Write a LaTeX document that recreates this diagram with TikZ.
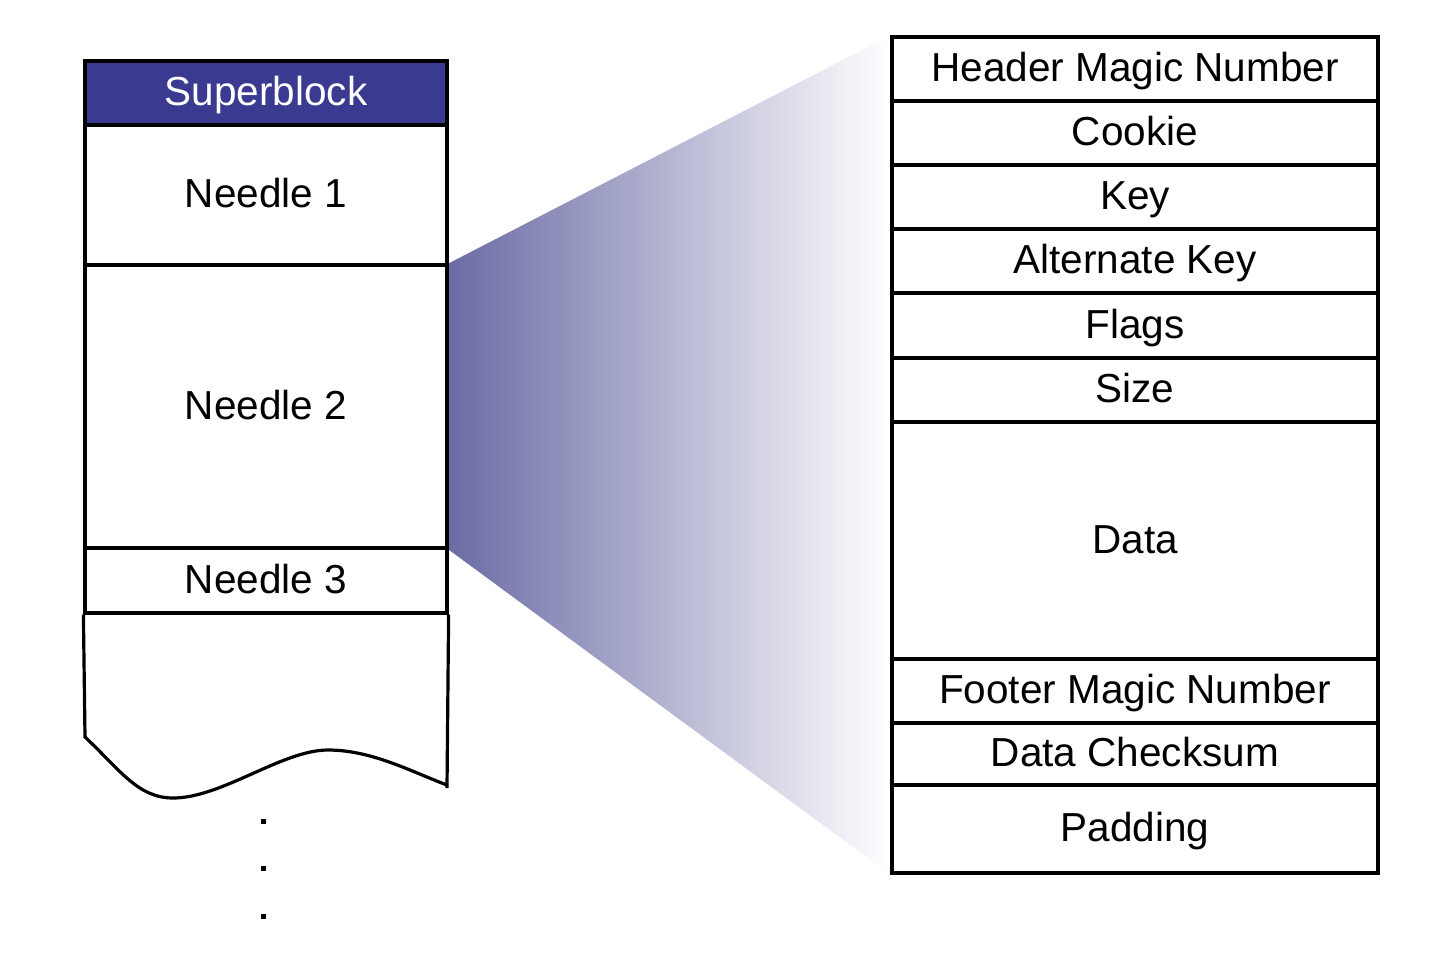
\documentclass[tikz,border=0pt]{standalone}
\usepackage{fontspec}
\setmainfont{Liberation Sans}
\usetikzlibrary{backgrounds}
\definecolor{sbblue}{RGB}{58,58,145}
\definecolor{wedgeblue}{RGB}{106,108,164}
\begin{document}
\begin{tikzpicture}[x=1pt,y=-1pt,
  cell/.style={draw=black,line width=3.2pt,fill=white,minimum width=#1,inner sep=0pt,
    text height=33pt,text depth=8pt,
    font=\fontsize{40.5}{48}\selectfont,anchor=center},
  lcell/.style={cell=362pt},
  rcell/.style={cell=486pt},
  sbcell/.style={lcell,fill=sbblue,text=white},
  border/.style={draw=black,line width=3.2pt,line join=miter},
  dotmark/.style={fill=black,minimum size=5pt,inner sep=0pt,draw=none}]
\useasboundingbox (0,0) rectangle (1431,975);
% left column
\node[sbcell,minimum height=64pt] (sb) at (266,93) {Superblock};
\node[lcell,minimum height=140pt] (n1) at (266,195) {Needle 1};
\node[lcell,minimum height=283pt] (n2) at (266,406.5) {Needle 2};
\node[lcell,minimum height=65pt] (n3) at (266,580.5) {Needle 3};
\coordinate (wl) at (85,737);
\coordinate (wr) at (447,785);
\coordinate (rb) at (447,788);
\draw[border] (n3.south west) -- (wl)
  .. controls (120,770) and (138,798) .. (173,798)
  .. controls (222,798) and (282,750) .. (328,750)
  .. controls (372,750) and (412,772) .. (wr);
\draw[border] (n3.south east) -- (rb);
\node[dotmark] (d1) at (263,821) {};
\node[dotmark] (d2) at (263,868) {};
\node[dotmark] (d3) at (263,916) {};
% right column
\node[rcell,minimum height=64pt] (hdr) at (1135,69) {Header Magic Number};
\node[rcell,minimum height=64pt] (ck) at (1135,133) {Cookie};
\node[rcell,minimum height=64pt] (key) at (1135,197) {Key};
\node[rcell,minimum height=64pt] (akey) at (1135,261) {Alternate Key};
\node[rcell,minimum height=65pt] (flags) at (1135,325.5) {Flags};
\node[rcell,minimum height=64pt] (size) at (1135,390) {Size};
\node[rcell,minimum height=237pt] (data) at (1135,540.5) {Data};
\node[rcell,minimum height=64pt] (foot) at (1135,691) {Footer Magic Number};
\node[rcell,minimum height=62pt] (cks) at (1135,754) {Data Checksum};
\node[rcell,minimum height=88pt] (pad) at (1135,829) {Padding};
% wedge
\begin{scope}[on background layer]
\shade[left color=wedgeblue,right color=white]
  (n2.north east) -- (hdr.north west) -- (pad.south west) -- (n2.south east) -- cycle;
\end{scope}
\end{tikzpicture}
\end{document}
